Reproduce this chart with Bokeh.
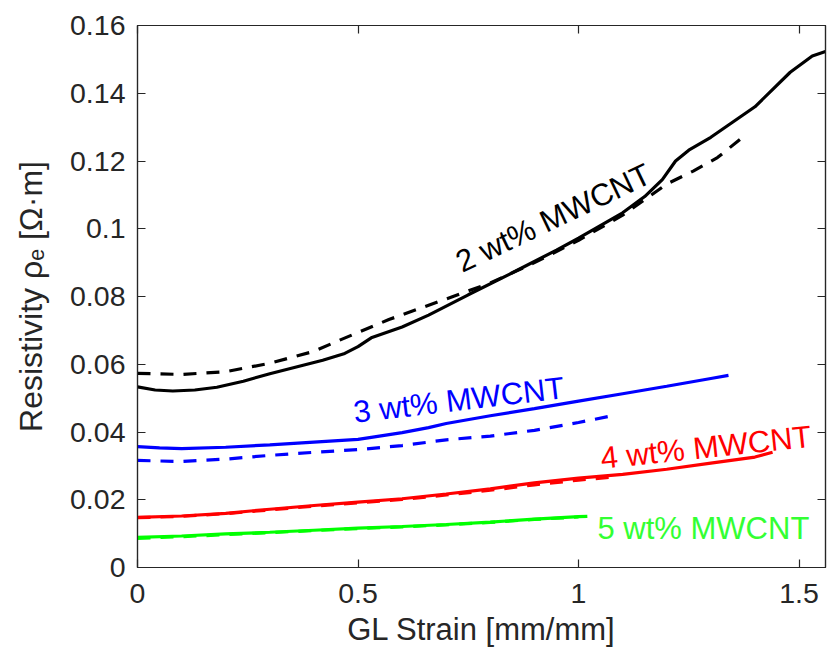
import math
from bokeh.plotting import figure
from bokeh.models import Range1d, LinearAxis, FixedTicker, Label
from bokeh.embed import file_html
from bokeh.resources import INLINE

# ---------------- data ----------------
x_ticks = [0, 0.5, 1, 1.5]
x_tick_labels = ["0", "0.5", "1", "1.5"]
y_ticks = [0, 0.02, 0.04, 0.06, 0.08, 0.10, 0.12, 0.14, 0.16]
y_tick_labels = ["0", "0.02", "0.04", "0.06", "0.08", "0.1", "0.12", "0.14", "0.16"]

# 2 wt% MWCNT
w2_exp_x = [0, 0.04, 0.08, 0.13, 0.18, 0.24, 0.3, 0.36, 0.42, 0.47, 0.5, 0.53, 0.6, 0.66, 0.75, 0.85,
            0.95, 1.0, 1.1, 1.15, 1.19, 1.22, 1.25, 1.3, 1.4, 1.48, 1.53, 1.56]
w2_exp_y = [0.0533, 0.0524, 0.0521, 0.0524, 0.0532, 0.0550, 0.0572, 0.0592, 0.0612, 0.0632,
            0.0652, 0.0678, 0.0710, 0.0745, 0.0805, 0.0870, 0.0937, 0.0972, 0.1047, 0.1095,
            0.1145, 0.1200, 0.1232, 0.1270, 0.1360, 0.1462, 0.1510, 0.1523]
w2_mod_x = [0, 0.1, 0.2, 0.3, 0.4, 0.46, 0.57, 0.69, 0.8, 0.9, 1.0, 1.1, 1.16, 1.2, 1.26, 1.315, 1.372]
w2_mod_y = [0.0573, 0.0570, 0.0578, 0.0603, 0.0638, 0.0672, 0.0732, 0.0788, 0.0840, 0.0900,
            0.0966, 0.1040, 0.1095, 0.1132, 0.1170, 0.1210, 0.1270]

# 3 wt% MWCNT
w3_exp_x = [0, 0.05, 0.1, 0.2, 0.3, 0.4, 0.5, 0.53, 0.6, 0.66, 0.7, 0.8, 0.9, 1.0, 1.1, 1.2, 1.3, 1.34]
w3_exp_y = [0.0357, 0.0353, 0.0351, 0.0355, 0.0362, 0.0370, 0.0378, 0.0384, 0.0398, 0.0413,
            0.0425, 0.0448, 0.0469, 0.0491, 0.0513, 0.0535, 0.0558, 0.0567]
w3_mod_x = [0, 0.1, 0.2, 0.3, 0.4, 0.5, 0.6, 0.7, 0.8, 0.9, 1.0, 1.08]
w3_mod_y = [0.0316, 0.0313, 0.0320, 0.0331, 0.0340, 0.0348, 0.0360, 0.0377, 0.0388, 0.0405,
            0.0428, 0.0449]

# 4 wt% MWCNT
w4_exp_x = [0, 0.1, 0.2, 0.3, 0.4, 0.5, 0.6, 0.7, 0.8, 0.9, 1.0, 1.1, 1.2, 1.3, 1.4, 1.44]
w4_exp_y = [0.0148, 0.0152, 0.0160, 0.0172, 0.0183, 0.0193, 0.0203, 0.0217, 0.0232, 0.0250,
            0.0264, 0.0275, 0.0290, 0.0308, 0.0326, 0.0340]
w4_mod_x = [0, 0.1, 0.2, 0.3, 0.4, 0.5, 0.6, 0.7, 0.8, 0.9, 1.0, 1.07]
w4_mod_y = [0.0147, 0.0151, 0.0159, 0.0170, 0.0181, 0.0191, 0.0201, 0.0214, 0.0228, 0.0244,
            0.0258, 0.0266]

# 5 wt% MWCNT
w5_exp_x = [0, 0.1, 0.2, 0.3, 0.4, 0.5, 0.6, 0.7, 0.8, 0.9, 1.0, 1.02]
w5_exp_y = [0.0089, 0.0093, 0.0099, 0.0104, 0.0110, 0.0116, 0.0121, 0.0127, 0.0134, 0.0143,
            0.0150, 0.0151]
w5_mod_x = [0, 0.1, 0.2, 0.3, 0.4, 0.5, 0.6, 0.7, 0.8, 0.9, 1.0]
w5_mod_y = [0.0086, 0.0091, 0.0097, 0.0103, 0.0109, 0.0115, 0.0120, 0.0126, 0.0133, 0.0142,
            0.0149]

series_labels = ["2 wt% MWCNT", "3 wt% MWCNT", "4 wt% MWCNT", "5 wt% MWCNT"]

# ---------------- figure ----------------
FONT = "Liberation Sans"
AX = "#262626"

p = figure(width=832, height=652, x_range=Range1d(0, 1.56), y_range=Range1d(0, 0.16),
           output_backend="svg", toolbar_location=None,
           min_border_left=137, min_border_right=7, min_border_top=25, min_border_bottom=85)
p.grid.visible = False
p.background_fill_color = "white"
p.border_fill_color = "white"
p.outline_line_color = AX
p.outline_line_width = 1.2


def style_axis(ax, ticks, labels, show_labels=True):
    ax.ticker = FixedTicker(ticks=ticks)
    ax.major_label_overrides = {t: l for t, l in zip(ticks, labels)}
    ax.minor_tick_line_color = None
    ax.major_tick_in = 8
    ax.major_tick_out = 0
    ax.major_tick_line_color = AX
    ax.major_tick_line_width = 1.2
    ax.axis_line_color = AX
    ax.axis_line_width = 1.2
    ax.major_label_text_font = FONT
    ax.major_label_text_font_size = "28.5px"
    ax.major_label_text_color = AX if show_labels else None


style_axis(p.xaxis[0], x_ticks, x_tick_labels)
style_axis(p.yaxis[0], y_ticks, y_tick_labels)
p.xaxis[0].major_label_standoff = 16
p.yaxis[0].major_label_standoff = 12
p.xaxis[0].axis_label = "GL Strain [mm/mm]"
p.yaxis[0].axis_label = "Resistivity \u03c1\u2091 [\u03a9\u00b7m]"
for ax in (p.xaxis[0], p.yaxis[0]):
    ax.axis_label_text_font = FONT
    ax.axis_label_text_font_style = "normal"
    ax.axis_label_text_color = AX
p.xaxis[0].axis_label_text_font_size = "31px"
p.yaxis[0].axis_label_text_font_size = "32px"
p.xaxis[0].axis_label_standoff = 6
p.yaxis[0].axis_label_standoff = 18

top_ax = LinearAxis()
style_axis(top_ax, x_ticks, x_tick_labels, show_labels=False)
p.add_layout(top_ax, "above")
right_ax = LinearAxis()
style_axis(right_ax, y_ticks, y_tick_labels, show_labels=False)
p.add_layout(right_ax, "right")

DASH = "13 10"
LW = 3.2
lines = [
    (w2_exp_x, w2_exp_y, w2_mod_x, w2_mod_y, "#000000"),
    (w3_exp_x, w3_exp_y, w3_mod_x, w3_mod_y, "#0000ff"),
    (w4_exp_x, w4_exp_y, w4_mod_x, w4_mod_y, "#ff0000"),
    (w5_exp_x, w5_exp_y, w5_mod_x, w5_mod_y, "#00ff00"),
]
for ex, ey, mx, my, c in lines:
    p.line(mx, my, line_color=c, line_width=LW, line_dash=DASH)
    p.line(ex, ey, line_color=c, line_width=LW)

# curve annotations
ann = [
    (series_labels[0], 0.726, 0.0897, 25.5, "#000000"),
    (series_labels[1], 0.49, 0.0458, 6.7, "#0000ff"),
    (series_labels[2], 1.05, 0.0322, 6.0, "#ff0000"),
    (series_labels[3], 1.043, 0.0115, 0.0, "#33ff33"),
]
for txt, ax_, ay_, ang, c in ann:
    p.add_layout(Label(x=ax_, y=ay_, text=txt, angle=math.radians(ang), text_color=c,
                       text_font=FONT, text_font_size="31px", text_align="left",
                       text_baseline="alphabetic"))

open("out.html", "w").write(file_html(p, INLINE))
